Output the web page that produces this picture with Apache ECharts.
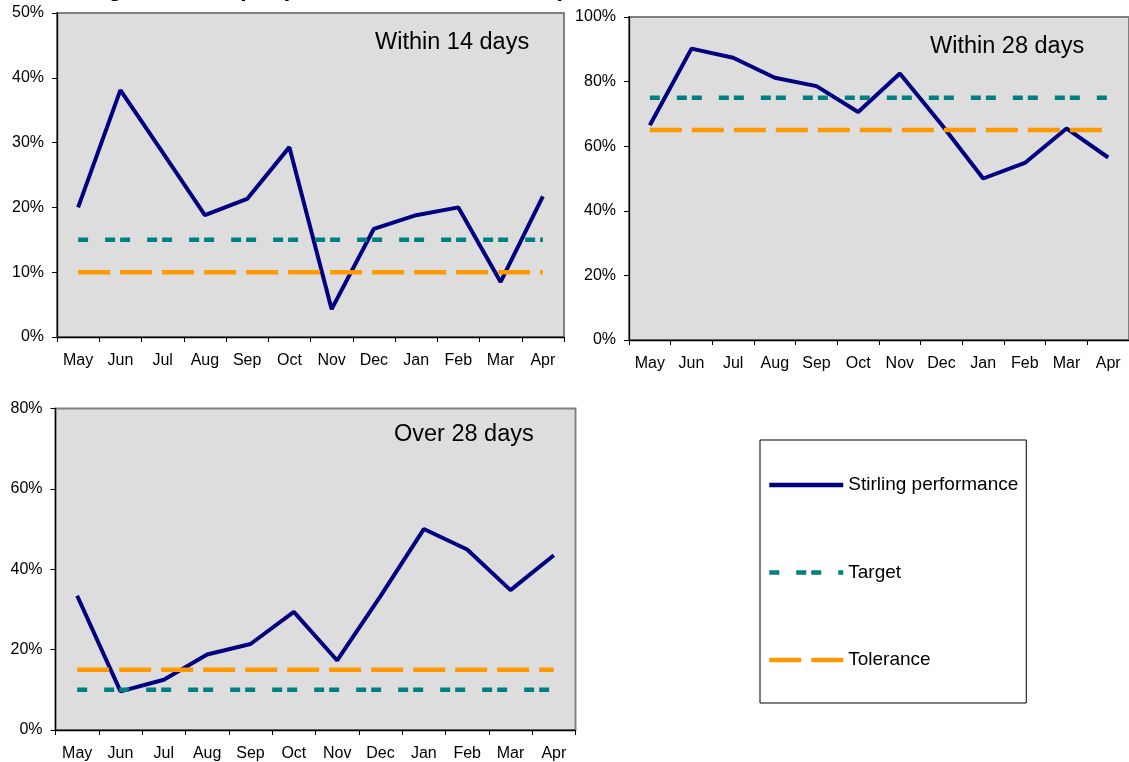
<!DOCTYPE html>
<html>
<head>
<meta charset="utf-8">
<script src="https://cdn.jsdelivr.net/npm/echarts@6/dist/echarts.min.js"></script>
<style>
html,body{margin:0;padding:0;background:#ffffff;}
#c{width:1129px;height:762px;}
</style>
</head>
<body>
<div id="c"></div>
<script>
// ---- data ----
const months = ['May','Jun','Jul','Aug','Sep','Oct','Nov','Dec','Jan','Feb','Mar','Apr'];

const within14 = [20.0, 38.1, 28.5, 18.8, 21.3, 29.3, 4.3, 16.7, 18.8, 20.0, 8.5, 21.7];
const within14Target = [15, 15, 15, 15, 15, 15, 15, 15, 15, 15, 15, 15];
const within14Tolerance = [10, 10, 10, 10, 10, 10, 10, 10, 10, 10, 10, 10];

const within28 = [66.5, 90.2, 87.4, 81.2, 78.6, 70.6, 82.5, 66.7, 50.0, 54.8, 65.5, 56.5];
const within28Target = [75, 75, 75, 75, 75, 75, 75, 75, 75, 75, 75, 75];
const within28Tolerance = [65, 65, 65, 65, 65, 65, 65, 65, 65, 65, 65, 65];

const over28 = [33.4, 9.6, 12.5, 18.8, 21.4, 29.4, 17.3, 33.3, 50.0, 44.9, 34.8, 43.5];
const over28Target = [10, 10, 10, 10, 10, 10, 10, 10, 10, 10, 10, 10];
const over28Tolerance = [15, 15, 15, 15, 15, 15, 15, 15, 15, 15, 15, 15];

const yAxis14 = {max: 50, interval: 10};
const yAxis28 = {max: 100, interval: 20};
const yAxisOver = {max: 80, interval: 20};

const panelLabels = ['Within 14 days', 'Within 28 days', 'Over 28 days'];
const seriesNames = ['Stirling performance', 'Target', 'Tolerance'];
const titleText = "Percentage of older people's assessments completed within timescale";

// ---- styles ----
const FONT = '"Liberation Sans", Arial, sans-serif';
const NAVY = '#000080', TEAL = '#008080', ORANGE = '#FF9900';

const grids = [
  {left: 57, top: 13, width: 507, height: 324},
  {left: 629, top: 17, width: 504, height: 323},
  {left: 55.5, top: 408.5, width: 520, height: 323}
].map(g => Object.assign(g, {show: true, backgroundColor: '#DDDDDD', borderColor: '#808080', borderWidth: 2}));

function xAxis(i) {
  return {
    type: 'category', gridIndex: i, data: months, boundaryGap: true,
    axisLine: {lineStyle: {color: '#000', width: 1.3}},
    axisTick: {show: true, alignWithLabel: false, interval: 0, length: 5, lineStyle: {color: '#000'}},
    axisLabel: {interval: 0, margin: 16, color: '#000', fontSize: 16, fontFamily: FONT},
    splitLine: {show: false}
  };
}
function yAxis(i, cfg) {
  return {
    type: 'value', gridIndex: i, min: 0, max: cfg.max, interval: cfg.interval,
    axisLine: {show: true, lineStyle: {color: '#000', width: 1.3}},
    axisTick: {show: true, length: 5, lineStyle: {color: '#000'}},
    axisLabel: {margin: 13, color: '#000', fontSize: 16, fontFamily: FONT, formatter: '{value}%'},
    splitLine: {show: false}
  };
}

function trio(i, perf, target, tol) {
  return [
    {name: seriesNames[0], type: 'line', xAxisIndex: i, yAxisIndex: i, data: perf,
     symbol: 'none', lineStyle: {color: NAVY, width: 4}, itemStyle: {color: NAVY}, z: 2},
    {name: seriesNames[1], type: 'line', xAxisIndex: i, yAxisIndex: i, data: target,
     symbol: 'none', lineStyle: {color: TEAL, width: 4.5, type: [10, 5, 10, 17], dashOffset: 15, cap: 'butt'},
     itemStyle: {color: TEAL}, z: 3},
    {name: seriesNames[2], type: 'line', xAxisIndex: i, yAxisIndex: i, data: tol,
     symbol: 'none', lineStyle: {color: ORANGE, width: 4.5, type: [32, 10], dashOffset: 0, cap: 'butt'},
     itemStyle: {color: ORANGE}, z: 3}
  ];
}

const chart = echarts.init(document.getElementById('c'), null, {renderer: 'canvas'});
chart.setOption({
  backgroundColor: '#ffffff',
  animation: false,
  grid: grids,
  xAxis: [xAxis(0), xAxis(1), xAxis(2)],
  yAxis: [yAxis(0, yAxis14), yAxis(1, yAxis28), yAxis(2, yAxisOver)],
  legend: {
    orient: 'vertical', left: 760, top: 440,
    padding: [35, 8, 33, 7],
    borderColor: '#000', borderWidth: 1,
    itemWidth: 74, itemHeight: 14, itemGap: 67.5,
    itemStyle: {opacity: 0},
    lineStyle: {width: 4.5},
    textStyle: {fontSize: 19, fontFamily: FONT, color: '#000', lineHeight: 20},
    data: seriesNames
  },
  graphic: [
    {type: 'text', style: {x: 4.5, y: -10.5, text: titleText, verticalAlign: 'middle', font: 'bold 24.5px ' + FONT, fill: '#000'}},
    {type: 'text', style: {x: 375, y: 43, text: panelLabels[0], verticalAlign: 'middle', font: '23.5px ' + FONT, fill: '#000'}},
    {type: 'text', style: {x: 930, y: 47, text: panelLabels[1], verticalAlign: 'middle', font: '23.5px ' + FONT, fill: '#000'}},
    {type: 'text', style: {x: 394, y: 435, text: panelLabels[2], verticalAlign: 'middle', font: '23.5px ' + FONT, fill: '#000'}}
  ],
  series: [].concat(
    trio(0, within14, within14Target, within14Tolerance),
    trio(1, within28, within28Target, within28Tolerance),
    trio(2, over28, over28Target, over28Tolerance)
  )
});
</script>
</body>
</html>
